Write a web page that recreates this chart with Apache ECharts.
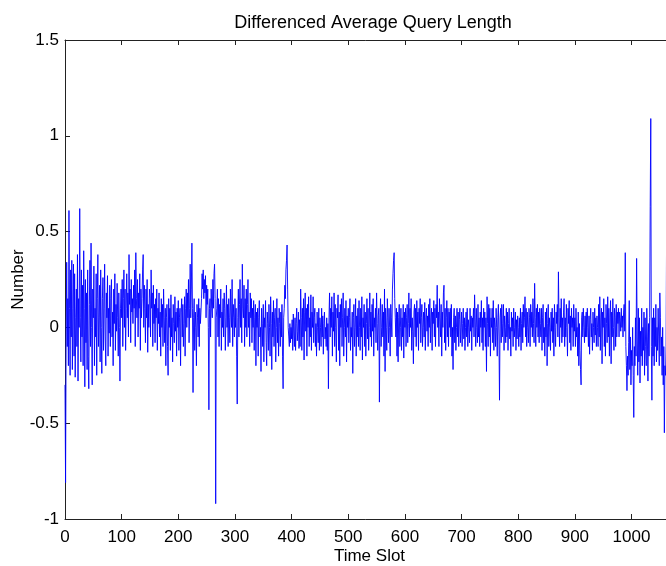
<!DOCTYPE html>
<html>
<head>
<meta charset="utf-8">
<script src="https://cdn.jsdelivr.net/npm/echarts@6/dist/echarts.min.js"></script>
<style>
html,body{margin:0;padding:0;background:#fff;}
#chart{width:666px;height:566px;}
</style>
</head>
<body>
<div id="chart"></div>
<script>
const titleText = 'Differenced Average Query Length';
const xAxisTitle = 'Time Slot';
const yAxisTitle = 'Number';
const xTickStep = 100;
const yTicks = [-1, -0.5, 0, 0.5, 1, 1.5];
// differenced average query length per time slot (index = time slot)
const diffValues = [
-0.3,-0.81,-0.05,0.34,-0.1,0.15,-0.2,0.61,0.1,-0.25,0.3,-0.05,0.35,-0.22,0.1,0.33,-0.15,0.28,-0.26,0.05,
0.2,-0.1,0.38,-0.28,0.15,0.0,0.62,0.05,-0.18,0.3,-0.05,0.22,-0.2,0.4,0.1,-0.31,0.25,-0.08,0.18,-0.22,
0.3,-0.15,-0.32,0.12,0.35,-0.1,0.44,0.0,-0.3,0.2,0.05,0.32,-0.2,0.1,-0.05,0.28,-0.25,0.15,0.38,-0.1,
0.05,0.22,-0.18,0.3,0.0,-0.24,0.15,0.26,-0.12,0.1,0.33,-0.05,-0.2,0.18,0.05,0.27,-0.15,0.1,-0.03,0.22,
-0.1,0.15,0.25,-0.05,0.08,-0.2,0.2,0.02,0.28,-0.12,0.12,-0.02,0.23,0.05,-0.15,0.18,0.0,-0.28,0.1,0.2,
0.05,0.25,-0.1,0.15,0.3,0.0,0.2,-0.12,0.1,0.28,0.05,0.18,-0.05,0.38,0.12,0.2,-0.08,0.25,0.08,0.15,
0.02,0.22,0.1,0.3,-0.1,0.39,0.15,0.05,0.25,-0.05,0.18,0.1,0.28,-0.12,0.2,0.05,0.15,0.3,0.38,0.0,
0.22,0.1,-0.08,0.2,0.05,0.25,-0.13,0.12,0.0,0.2,0.15,-0.05,0.3,0.1,0.18,-0.1,0.22,0.02,0.12,-0.08,
0.15,0.05,0.2,-0.12,0.1,0.02,0.18,-0.05,0.08,-0.15,0.15,0.0,0.12,-0.1,0.2,0.05,-0.08,0.1,-0.2,0.05,
0.12,-0.1,-0.25,0.15,0.0,0.1,-0.12,0.17,-0.05,0.05,-0.18,0.12,0.02,-0.08,0.16,-0.02,0.08,-0.15,0.1,0.0,
0.14,-0.12,0.05,0.1,-0.2,0.08,0.15,-0.05,0.12,-0.1,0.02,0.16,-0.15,0.1,0.2,0.0,0.18,0.05,0.25,-0.08,
0.1,0.33,0.05,0.2,0.44,0.1,-0.34,0.05,0.15,-0.12,0.08,0.0,-0.2,0.12,0.05,-0.05,0.15,-0.1,0.1,0.02,
0.08,0.15,0.28,0.2,0.3,0.15,0.25,0.18,0.27,0.05,0.22,0.12,0.2,0.0,-0.43,0.1,0.15,-0.05,0.2,0.1,
0.05,0.25,0.1,0.28,0.33,0.15,-0.92,0.05,0.1,0.2,-0.05,0.15,-0.1,0.12,0.05,0.2,-0.12,0.08,0.0,0.15,
-0.05,0.18,0.1,-0.12,0.05,0.22,0.0,0.12,-0.1,0.15,0.05,-0.08,0.2,0.08,0.0,0.25,-0.1,0.12,0.05,-0.05,
0.15,0.0,0.1,-0.15,-0.4,0.05,0.2,-0.05,0.12,0.25,0.0,0.15,-0.08,0.33,0.1,0.05,0.22,-0.1,0.15,0.0,
0.2,-0.05,0.12,0.25,0.0,0.08,-0.1,0.18,0.05,0.15,-0.08,0.1,0.0,0.14,-0.12,0.05,0.12,-0.2,0.08,0.0,
0.1,-0.15,0.05,0.14,-0.05,0.0,-0.23,0.1,0.02,-0.1,0.12,-0.18,0.05,0.0,0.14,-0.08,-0.2,0.08,0.02,-0.12,
0.12,0.0,-0.15,0.16,0.02,-0.22,0.08,-0.05,0.14,-0.1,0.05,0.1,-0.18,0.0,0.15,-0.08,0.05,-0.15,0.1,0.02,
-0.1,0.08,-0.05,0.12,-0.15,-0.32,0.05,0.1,0.22,0.15,0.3,0.35,0.43,0.2,0.0,-0.05,-0.1,0.02,-0.08,0.0,
-0.06,0.04,-0.12,0.07,-0.04,-0.1,0.05,-0.12,0.02,0.1,-0.07,-0.02,0.08,-0.11,0.04,-0.1,0.2,0.05,-0.12,0.1,
-0.05,0.15,-0.17,0.08,0.18,-0.02,0.1,-0.15,0.12,0.0,0.16,-0.1,0.05,-0.05,0.17,-0.12,0.08,0.0,0.16,-0.08,
0.05,0.1,-0.1,0.02,-0.15,0.08,0.0,-0.08,0.1,-0.12,0.05,0.0,-0.1,0.1,-0.05,0.06,-0.14,0.02,0.08,-0.06,
0.0,-0.1,0.05,-0.12,0.02,-0.32,0.05,0.18,-0.05,0.1,0.0,0.16,-0.15,0.08,-0.02,0.18,-0.1,0.12,0.0,-0.18,
0.1,0.05,0.17,-0.12,0.08,-0.2,0.12,0.0,0.15,-0.1,0.05,0.18,-0.15,0.0,0.1,-0.05,0.14,-0.18,0.06,0.0,
0.1,-0.08,0.05,0.15,-0.12,0.0,-0.05,0.08,-0.24,0.05,0.12,-0.1,0.0,0.15,-0.15,0.06,-0.05,0.1,-0.1,0.14,
0.0,-0.12,0.1,-0.05,0.16,-0.17,0.05,0.0,0.12,-0.1,0.08,-0.15,0.02,0.15,-0.06,0.1,-0.12,0.0,0.18,-0.05,
0.08,-0.1,0.12,-0.02,0.15,-0.15,0.05,0.0,0.1,-0.08,0.18,0.02,-0.12,0.06,0.1,-0.39,0.05,0.15,-0.1,0.0,
0.12,-0.05,0.08,-0.15,0.2,-0.23,0.1,0.0,-0.12,0.15,0.05,-0.08,0.1,0.0,-0.15,0.12,0.05,-0.05,0.2,0.28,
0.35,0.39,0.15,0.05,-0.05,0.1,-0.15,0.08,-0.18,0.05,0.12,-0.1,0.0,0.1,-0.12,0.05,-0.05,0.12,-0.16,0.08,
0.0,0.1,-0.1,0.05,0.12,-0.08,0.02,0.18,-0.05,0.1,0.0,0.15,-0.12,0.05,-0.02,-0.19,0.08,0.12,-0.05,0.1,
-0.1,0.14,0.0,0.08,-0.12,0.1,0.02,0.15,-0.08,0.05,0.12,-0.1,0.0,0.08,-0.05,0.13,-0.12,0.05,0.1,-0.02,
0.06,-0.1,0.12,0.0,0.15,-0.08,0.05,0.1,-0.12,0.08,0.02,0.14,-0.05,0.1,-0.1,0.12,0.05,0.22,0.0,0.08,
-0.1,0.15,0.05,-0.05,0.12,-0.15,0.08,0.0,0.18,0.22,-0.08,0.1,-0.12,0.05,0.14,-0.05,0.1,-0.1,0.08,0.0,
0.1,-0.05,0.12,-0.15,0.0,-0.22,0.05,0.1,-0.08,0.06,-0.12,0.0,0.1,-0.05,0.08,-0.1,0.04,0.1,-0.08,0.0,
0.08,-0.1,0.02,0.1,-0.06,0.05,-0.12,0.0,0.08,-0.05,0.1,-0.1,0.04,0.0,-0.08,0.1,-0.02,0.06,-0.12,0.05,
0.0,0.1,-0.05,0.17,0.05,-0.1,0.1,0.0,-0.08,0.12,-0.05,0.05,-0.1,0.08,0.0,0.14,-0.08,0.05,-0.12,0.1,
0.0,0.08,-0.1,0.05,-0.23,0.16,0.02,-0.1,0.12,-0.05,0.1,-0.15,0.05,0.0,0.1,-0.08,0.14,-0.12,0.05,0.0,
-0.1,0.1,0.0,-0.15,0.05,0.12,-0.05,-0.38,0.05,0.1,-0.08,0.12,-0.05,0.02,0.12,-0.12,0.06,0.0,-0.08,0.1,
-0.05,0.08,-0.12,0.02,0.1,-0.06,0.0,-0.15,0.08,-0.02,0.05,-0.1,0.1,-0.05,0.0,0.08,-0.12,0.04,-0.06,0.06,
0.0,-0.1,0.05,-0.05,0.1,-0.12,0.02,0.08,-0.08,0.12,0.0,0.05,0.16,-0.05,0.1,-0.1,0.08,0.0,-0.08,0.1,
0.05,-0.1,0.12,0.0,0.08,-0.05,0.15,0.02,-0.08,0.23,0.05,-0.1,0.1,0.0,0.12,-0.05,0.08,-0.08,0.1,0.02,
-0.05,0.1,-0.12,0.05,0.12,-0.08,0.0,-0.15,0.08,-0.05,0.1,-0.2,0.02,0.12,-0.1,0.05,0.0,-0.12,0.08,-0.02,
0.1,-0.08,0.05,-0.15,0.12,0.0,-0.1,0.08,0.02,0.12,-0.05,0.29,0.05,-0.1,0.1,0.0,0.15,-0.08,0.05,-0.05,
0.08,0.15,-0.1,0.05,-0.05,0.12,0.0,-0.15,0.1,0.02,0.14,-0.08,0.06,-0.12,0.1,0.0,0.05,-0.1,0.12,-0.02,
0.05,-0.1,0.1,-0.05,0.0,-0.15,0.08,-0.2,0.02,-0.12,-0.22,-0.3,0.05,0.08,-0.05,0.1,0.0,-0.08,0.06,-0.05,
0.08,-0.05,0.1,0.0,-0.1,0.06,-0.14,0.04,0.1,-0.05,0.02,-0.12,0.08,0.0,-0.08,0.1,-0.04,0.05,-0.1,0.06,
0.0,-0.1,0.12,-0.05,0.16,-0.12,0.05,0.1,-0.19,0.08,0.0,0.15,-0.1,0.05,-0.15,0.12,0.02,-0.08,0.16,-0.05,
0.1,-0.15,0.05,0.14,-0.19,0.08,-0.05,0.15,0.0,-0.12,0.1,0.05,-0.1,0.12,-0.05,0.08,0.02,0.1,-0.05,0.08,
0.05,-0.02,0.1,0.0,0.06,-0.05,0.08,0.12,-0.02,0.39,-0.1,-0.2,-0.33,-0.15,-0.25,-0.08,0.14,-0.22,-0.05,-0.3,
-0.12,-0.2,0.0,-0.25,-0.47,-0.1,-0.2,0.05,-0.15,0.36,-0.05,-0.25,0.1,-0.18,0.05,-0.29,-0.02,-0.15,0.1,-0.2,
0.0,-0.12,0.08,-0.25,0.05,-0.1,-0.2,0.1,-0.05,-0.28,0.02,-0.15,0.05,0.63,1.09,-0.1,-0.38,0.05,-0.15,0.1,
-0.2,0.05,-0.1,0.12,-0.18,0.0,-0.12,0.1,-0.05,-0.2,0.18,0.05,-0.15,-0.05,-0.25,0.0,-0.3,-0.1,-0.55,-0.2,
-0.25,-0.1,0.52
];

const xMaxSlot = 1075;
const seriesData = diffValues.map((v, i) => [i, v]);

const chart = echarts.init(document.getElementById('chart'), null, {renderer: 'canvas'});
const fontFam = '"Liberation Sans", Arial, Helvetica, sans-serif';
const axisLineStyle = {color: '#222', width: 1};
chart.setOption({
  animation: false,
  backgroundColor: '#fff',
  title: {
    text: titleText,
    left: 368,
    textAlign: 'center',
    top: 9,
    textStyle: {fontFamily: fontFam, fontSize: 18, fontWeight: 'normal', color: '#000'}
  },
  grid: {left: 65, top: 40, bottom: 47, right: -8, containLabel: false, outerBoundsMode: 'none'},
  xAxis: [{
    type: 'value', min: 0, max: xMaxSlot, interval: xTickStep,
    position: 'bottom',
    name: xAxisTitle, nameLocation: 'middle', nameGap: 29, nameMoveOverlap: false,
    nameTextStyle: {fontFamily: fontFam, fontSize: 17, color: '#000'},
    axisLine: {show: true, onZero: false, lineStyle: axisLineStyle},
    axisTick: {show: true, inside: true, length: 5, lineStyle: axisLineStyle},
    axisLabel: {fontFamily: fontFam, fontSize: 17, color: '#000', margin: 10, showMaxLabel: false,
      formatter: v => String(v)},
    splitLine: {show: false}
  }, {
    type: 'value', min: 0, max: xMaxSlot, interval: xTickStep,
    position: 'top',
    axisLine: {show: true, onZero: false, lineStyle: axisLineStyle},
    axisTick: {show: true, inside: true, length: 5, lineStyle: axisLineStyle},
    axisLabel: {show: false},
    splitLine: {show: false}
  }],
  yAxis: {
    type: 'value', min: yTicks[0], max: yTicks[yTicks.length - 1], interval: 0.5,
    name: yAxisTitle, nameLocation: 'middle', nameGap: 38, nameRotate: 90, nameMoveOverlap: false,
    nameTextStyle: {fontFamily: fontFam, fontSize: 17, color: '#000'},
    axisLine: {show: true, onZero: false, lineStyle: axisLineStyle},
    axisTick: {show: true, inside: true, length: 5, lineStyle: axisLineStyle},
    axisLabel: {fontFamily: fontFam, fontSize: 17, color: '#000', margin: 6},
    splitLine: {show: false}
  },
  series: [{
    type: 'line',
    xAxisIndex: 0,
    data: seriesData,
    showSymbol: false,
    symbol: 'none',
    sampling: null,
    lineStyle: {color: '#0000ff', width: 0.9},
    silent: true
  }]
});
</script>
</body>
</html>
